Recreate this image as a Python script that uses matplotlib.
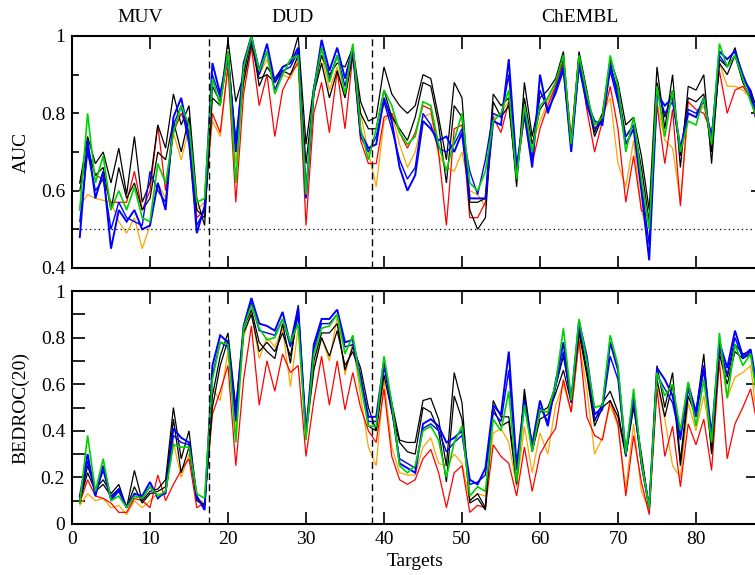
import matplotlib
matplotlib.use("Agg")
import matplotlib.pyplot as plt
import numpy as np
from matplotlib.ticker import MultipleLocator
import matplotlib.transforms as mtransforms

plt.rcParams['font.family'] = ['Liberation Serif', 'DejaVu Serif']

targets = list(range(1, 89))
sections = ["MUV", "DUD", "ChEMBL"]
section_x = [8.7, 28.3, 65.1]
dividers = [17.5, 38.5]

# ---------------- AUC ----------------
auc_black_a = [0.62, 0.74, 0.67, 0.70, 0.62, 0.71, 0.59, 0.74, 0.57, 0.62, 0.77, 0.71, 0.85, 0.77, 0.82, 0.58, 0.51,
               0.87, 0.83, 0.99, 0.83, 0.90, 1.00, 0.87, 0.92, 0.89, 0.92, 0.93, 1.00, 0.72, 0.87, 0.95, 0.90, 0.93, 0.92, 0.97, 0.83, 0.78,
               0.79, 0.92, 0.85, 0.82, 0.80, 0.82, 0.90, 0.89, 0.79, 0.68,
               0.88, 0.84, 0.57, 0.57, 0.58, 0.85, 0.82, 0.84, 0.61, 0.88,
               0.74, 0.84, 0.86, 0.89, 0.96, 0.72, 0.96, 0.86, 0.75, 0.80,
               0.94, 0.88, 0.77, 0.79, 0.69, 0.55, 0.92, 0.76, 0.90, 0.66,
               0.87, 0.86, 0.90, 0.67, 0.94, 0.92, 0.97, 0.89, 0.86, 0.80]
auc_black_b = [0.60, 0.71, 0.64, 0.66, 0.55, 0.66, 0.58, 0.62, 0.55, 0.58, 0.70, 0.68, 0.78, 0.70, 0.79, 0.55, 0.53,
               0.84, 0.82, 0.96, 0.72, 0.88, 0.98, 0.89, 0.90, 0.88, 0.91, 0.90, 0.95, 0.67, 0.85, 0.93, 0.84, 0.91, 0.84, 0.95, 0.80, 0.76,
               0.76, 0.86, 0.79, 0.76, 0.73, 0.79, 0.88, 0.87, 0.77, 0.62,
               0.82, 0.79, 0.55, 0.50, 0.53, 0.83, 0.79, 0.82, 0.63, 0.84,
               0.72, 0.81, 0.84, 0.88, 0.94, 0.71, 0.94, 0.84, 0.74, 0.79,
               0.92, 0.86, 0.74, 0.77, 0.66, 0.52, 0.88, 0.79, 0.86, 0.69,
               0.84, 0.83, 0.85, 0.70, 0.93, 0.90, 0.95, 0.88, 0.84, 0.78]
auc_blue_a = [0.48, 0.73, 0.58, 0.65, 0.45, 0.55, 0.52, 0.55, 0.50, 0.51, 0.62, 0.55, 0.79, 0.84, 0.74, 0.49, 0.56,
              0.93, 0.85, 0.95, 0.70, 0.93, 1.00, 0.91, 0.98, 0.88, 0.92, 0.93, 0.97, 0.58, 0.86, 0.99, 0.91, 0.97, 0.89, 0.97, 0.75, 0.71,
              0.72, 0.84, 0.78, 0.66, 0.60, 0.64, 0.78, 0.76, 0.73, 0.74,
              0.70, 0.75, 0.58, 0.58, 0.58, 0.78, 0.77, 0.94, 0.66, 0.80,
              0.66, 0.90, 0.80, 0.86, 0.92, 0.70, 0.93, 0.83, 0.78, 0.77,
              0.93, 0.84, 0.72, 0.76, 0.60, 0.42, 0.85, 0.82, 0.84, 0.71,
              0.80, 0.79, 0.84, 0.73, 0.96, 0.94, 0.96, 0.90, 0.85, 0.76]
auc_blue_b = [0.52, 0.70, 0.60, 0.63, 0.50, 0.57, 0.53, 0.52, 0.51, 0.65, 0.60, 0.57, 0.77, 0.82, 0.72, 0.51, 0.55,
              0.90, 0.84, 0.94, 0.73, 0.92, 0.99, 0.90, 0.96, 0.86, 0.91, 0.92, 0.96, 0.60, 0.85, 0.97, 0.89, 0.95, 0.87, 0.96, 0.74, 0.70,
              0.74, 0.83, 0.76, 0.68, 0.63, 0.66, 0.80, 0.77, 0.71, 0.70,
              0.72, 0.76, 0.65, 0.59, 0.68, 0.80, 0.79, 0.90, 0.65, 0.81,
              0.68, 0.86, 0.81, 0.85, 0.91, 0.71, 0.92, 0.82, 0.76, 0.78,
              0.91, 0.83, 0.74, 0.77, 0.62, 0.46, 0.86, 0.80, 0.83, 0.70,
              0.81, 0.80, 0.83, 0.74, 0.95, 0.92, 0.95, 0.89, 0.86, 0.78]
auc_green = [0.55, 0.80, 0.62, 0.69, 0.55, 0.60, 0.55, 0.61, 0.53, 0.52, 0.67, 0.62, 0.75, 0.82, 0.77, 0.57, 0.58,
             0.89, 0.82, 0.96, 0.62, 0.92, 1.00, 0.91, 0.96, 0.85, 0.90, 0.94, 0.95, 0.59, 0.86, 0.97, 0.88, 0.95, 0.85, 0.98, 0.76, 0.68,
             0.76, 0.86, 0.82, 0.75, 0.72, 0.74, 0.83, 0.82, 0.72, 0.65,
             0.73, 0.80, 0.62, 0.60, 0.65, 0.78, 0.80, 0.86, 0.63, 0.82,
             0.70, 0.82, 0.84, 0.88, 0.95, 0.72, 0.95, 0.85, 0.77, 0.79,
             0.95, 0.87, 0.70, 0.79, 0.63, 0.50, 0.87, 0.74, 0.86, 0.70,
             0.78, 0.77, 0.84, 0.72, 0.98, 0.92, 0.95, 0.89, 0.83, 0.78]
auc_orange = [0.56, 0.59, 0.58, 0.575, 0.57, 0.52, 0.49, 0.53, 0.45, 0.51, 0.62, 0.58, 0.75, 0.68, 0.76, 0.55, 0.57,
              0.78, 0.74, 0.93, 0.67, 0.88, 0.99, 0.90, 0.94, 0.86, 0.90, 0.89, 0.94, 0.60, 0.85, 0.95, 0.86, 0.92, 0.84, 0.96, 0.80, 0.70,
              0.61, 0.78, 0.80, 0.72, 0.66, 0.70, 0.79, 0.80, 0.69, 0.66,
              0.65, 0.70, 0.60, 0.59, 0.56, 0.79, 0.80, 0.83, 0.64, 0.80,
              0.72, 0.78, 0.83, 0.87, 0.92, 0.72, 0.94, 0.85, 0.76, 0.80,
              0.84, 0.67, 0.61, 0.73, 0.55, 0.47, 0.83, 0.73, 0.71, 0.57,
              0.80, 0.79, 0.82, 0.72, 0.93, 0.87, 0.87, 0.86, 0.84, 0.76]
auc_red = [0.62, 0.70, 0.64, 0.63, 0.57, 0.57, 0.57, 0.65, 0.55, 0.60, 0.77, 0.60, 0.75, 0.80, 0.75, 0.53, 0.55,
           0.80, 0.75, 0.92, 0.57, 0.85, 0.97, 0.82, 0.90, 0.74, 0.86, 0.90, 0.93, 0.51, 0.80, 0.88, 0.75, 0.91, 0.76, 0.95, 0.73, 0.67,
           0.67, 0.79, 0.80, 0.75, 0.71, 0.75, 0.82, 0.81, 0.70, 0.51,
           0.76, 0.77, 0.53, 0.53, 0.57, 0.79, 0.75, 0.83, 0.64, 0.79,
           0.67, 0.76, 0.82, 0.87, 0.93, 0.74, 0.95, 0.81, 0.70, 0.78,
           0.87, 0.76, 0.57, 0.69, 0.55, 0.53, 0.82, 0.67, 0.81, 0.56,
           0.83, 0.81, 0.80, 0.75, 0.91, 0.80, 0.86, 0.87, 0.84, 0.76]

# ---------------- BEDROC(20) ----------------
bed_black_a = [0.10, 0.25, 0.15, 0.19, 0.13, 0.17, 0.07, 0.23, 0.10, 0.14, 0.15, 0.19, 0.50, 0.28, 0.40, 0.11, 0.08,
               0.55, 0.72, 0.82, 0.50, 0.84, 0.92, 0.78, 0.74, 0.71, 0.86, 0.69, 0.94, 0.40, 0.70, 0.82, 0.82, 0.86, 0.66, 0.76, 0.67, 0.50,
               0.40, 0.68, 0.52, 0.36, 0.35, 0.35, 0.53, 0.54, 0.45, 0.25,
               0.65, 0.52, 0.10, 0.13, 0.07, 0.53, 0.46, 0.46, 0.18, 0.58,
               0.33, 0.48, 0.50, 0.59, 0.72, 0.53, 0.84, 0.66, 0.44, 0.52,
               0.57, 0.48, 0.30, 0.52, 0.30, 0.07, 0.68, 0.50, 0.65, 0.27,
               0.58, 0.48, 0.73, 0.31, 0.76, 0.63, 0.77, 0.73, 0.74, 0.55]
bed_black_b = [0.10, 0.22, 0.14, 0.17, 0.12, 0.15, 0.07, 0.16, 0.09, 0.13, 0.14, 0.16, 0.45, 0.22, 0.33, 0.10, 0.08,
               0.50, 0.68, 0.79, 0.45, 0.82, 0.90, 0.74, 0.78, 0.74, 0.82, 0.72, 0.90, 0.38, 0.66, 0.80, 0.72, 0.83, 0.68, 0.74, 0.64, 0.42,
               0.40, 0.64, 0.48, 0.35, 0.31, 0.30, 0.50, 0.48, 0.40, 0.18,
               0.55, 0.45, 0.09, 0.11, 0.06, 0.50, 0.42, 0.44, 0.17, 0.55,
               0.31, 0.45, 0.47, 0.56, 0.66, 0.52, 0.82, 0.64, 0.42, 0.50,
               0.53, 0.46, 0.29, 0.50, 0.28, 0.07, 0.62, 0.46, 0.60, 0.25,
               0.55, 0.46, 0.68, 0.30, 0.73, 0.60, 0.74, 0.71, 0.73, 0.53]
bed_blue_a = [0.12, 0.30, 0.12, 0.25, 0.11, 0.15, 0.07, 0.13, 0.12, 0.18, 0.11, 0.14, 0.41, 0.37, 0.35, 0.12, 0.06,
              0.68, 0.81, 0.78, 0.47, 0.85, 0.97, 0.86, 0.85, 0.83, 0.91, 0.77, 0.93, 0.39, 0.77, 0.88, 0.88, 0.92, 0.78, 0.79, 0.63, 0.46,
              0.46, 0.70, 0.50, 0.26, 0.24, 0.22, 0.43, 0.45, 0.42, 0.35,
              0.37, 0.40, 0.19, 0.17, 0.24, 0.51, 0.47, 0.74, 0.25, 0.53,
              0.34, 0.53, 0.42, 0.61, 0.78, 0.53, 0.87, 0.72, 0.47, 0.50,
              0.78, 0.66, 0.30, 0.55, 0.26, 0.07, 0.67, 0.62, 0.55, 0.38,
              0.60, 0.48, 0.68, 0.38, 0.78, 0.67, 0.83, 0.72, 0.75, 0.55]
bed_blue_b = [0.11, 0.27, 0.13, 0.23, 0.10, 0.14, 0.07, 0.12, 0.11, 0.16, 0.12, 0.13, 0.38, 0.35, 0.34, 0.11, 0.07,
              0.64, 0.78, 0.76, 0.44, 0.84, 0.95, 0.83, 0.82, 0.81, 0.88, 0.76, 0.90, 0.38, 0.75, 0.86, 0.86, 0.90, 0.76, 0.77, 0.61, 0.44,
              0.44, 0.68, 0.49, 0.28, 0.26, 0.24, 0.41, 0.43, 0.40, 0.31,
              0.35, 0.38, 0.17, 0.18, 0.21, 0.48, 0.44, 0.66, 0.23, 0.51,
              0.33, 0.50, 0.44, 0.59, 0.74, 0.52, 0.85, 0.70, 0.45, 0.49,
              0.72, 0.62, 0.29, 0.53, 0.26, 0.07, 0.64, 0.58, 0.52, 0.36,
              0.58, 0.46, 0.66, 0.36, 0.76, 0.64, 0.80, 0.71, 0.74, 0.53]
bed_green = [0.09, 0.38, 0.14, 0.28, 0.10, 0.12, 0.07, 0.12, 0.11, 0.16, 0.12, 0.14, 0.34, 0.33, 0.33, 0.13, 0.11,
             0.62, 0.78, 0.77, 0.35, 0.84, 0.94, 0.84, 0.79, 0.80, 0.88, 0.78, 0.86, 0.36, 0.73, 0.84, 0.85, 0.90, 0.73, 0.81, 0.60, 0.42,
             0.42, 0.72, 0.52, 0.25, 0.22, 0.25, 0.40, 0.42, 0.36, 0.20,
             0.35, 0.42, 0.12, 0.16, 0.14, 0.45, 0.40, 0.57, 0.18, 0.51,
             0.31, 0.49, 0.48, 0.60, 0.84, 0.53, 0.88, 0.70, 0.50, 0.51,
             0.81, 0.68, 0.30, 0.58, 0.27, 0.07, 0.65, 0.55, 0.60, 0.40,
             0.61, 0.42, 0.62, 0.35, 0.82, 0.54, 0.77, 0.68, 0.73, 0.50]
bed_orange = [0.08, 0.13, 0.10, 0.11, 0.07, 0.08, 0.04, 0.10, 0.07, 0.10, 0.13, 0.13, 0.35, 0.20, 0.30, 0.11, 0.09,
              0.58, 0.53, 0.74, 0.40, 0.80, 0.91, 0.71, 0.80, 0.76, 0.84, 0.59, 0.84, 0.39, 0.67, 0.80, 0.70, 0.89, 0.64, 0.78, 0.55, 0.33,
              0.25, 0.62, 0.33, 0.22, 0.21, 0.21, 0.33, 0.37, 0.26, 0.25,
              0.30, 0.26, 0.10, 0.13, 0.12, 0.39, 0.41, 0.35, 0.16, 0.42,
              0.22, 0.39, 0.30, 0.51, 0.60, 0.48, 0.78, 0.58, 0.30, 0.37,
              0.51, 0.42, 0.15, 0.43, 0.14, 0.06, 0.60, 0.45, 0.25, 0.20,
              0.52, 0.40, 0.55, 0.34, 0.75, 0.54, 0.63, 0.65, 0.68, 0.40]
bed_red = [0.09, 0.19, 0.12, 0.11, 0.09, 0.05, 0.05, 0.11, 0.10, 0.07, 0.21, 0.10, 0.17, 0.23, 0.28, 0.07, 0.09,
           0.47, 0.57, 0.68, 0.25, 0.62, 0.85, 0.51, 0.70, 0.57, 0.73, 0.65, 0.68, 0.29, 0.53, 0.72, 0.51, 0.70, 0.49, 0.65, 0.50, 0.40,
           0.35, 0.58, 0.29, 0.19, 0.17, 0.19, 0.28, 0.32, 0.22, 0.07,
           0.22, 0.25, 0.05, 0.08, 0.07, 0.34, 0.29, 0.26, 0.12, 0.33,
           0.14, 0.30, 0.36, 0.41, 0.62, 0.48, 0.79, 0.46, 0.38, 0.36,
           0.53, 0.43, 0.12, 0.38, 0.18, 0.04, 0.58, 0.29, 0.42, 0.16,
           0.43, 0.34, 0.45, 0.23, 0.70, 0.28, 0.43, 0.50, 0.58, 0.40]

BLACK, BLUE, GREEN, ORANGE, RED = "#000000", "#0000ff", "#00d200", "#ffa500", "#ff0000"

W, H = 755, 575
fig = plt.figure(figsize=(W / 100, H / 100), dpi=100)
left = 72 / W
width = (7.8 * 88) / W
ax1 = fig.add_axes([left, 1 - 268 / H, width, (268 - 36) / H])
ax2 = fig.add_axes([left, 1 - 524 / H, width, (524 - 291) / H])

def draw(ax, series):
    for vals, col, lw in series:
        ax.plot(targets, vals, color=col, lw=lw, solid_joinstyle='miter', zorder=2)

draw(ax1, [(auc_orange, ORANGE, 0.9), (auc_red, RED, 0.9),
           (auc_black_b, BLACK, 0.9), (auc_black_a, BLACK, 0.9),
           (auc_blue_b, BLUE, 1.0), (auc_blue_a, BLUE, 1.4),
           (auc_green, GREEN, 1.2)])
draw(ax2, [(bed_orange, ORANGE, 0.9), (bed_red, RED, 0.9),
           (bed_black_b, BLACK, 0.9), (bed_black_a, BLACK, 0.9),
           (bed_blue_b, BLUE, 1.0), (bed_blue_a, BLUE, 1.4),
           (bed_green, GREEN, 1.2)])

ax1.axhline(0.5, color='black', lw=0.9, ls=(0, (1, 2.5)), zorder=1)

for ax in (ax1, ax2):
    for d in dividers:
        ax.axvline(d, color='black', lw=1.0, ls=(0, (5, 3)), zorder=3)
    ax.set_xlim(0, 88)
    ax.xaxis.set_major_locator(MultipleLocator(10))
    for s in ax.spines.values():
        s.set_linewidth(1.5)
    ax.tick_params(axis='both', which='both', direction='in', top=True, right=True,
                   labelsize=14, width=1.2, pad=5)
    ax.tick_params(axis='x', which='major', length=9)

ax1.set_ylim(0.4, 1.0)
ax1.yaxis.set_minor_locator(MultipleLocator(0.1))
ax1.set_yticks([0.4, 0.6, 0.8, 1.0])
ax1.set_yticklabels(["0.4", "0.6", "0.8", "1"])
ax1.tick_params(axis='y', which='both', length=5)
ax1.tick_params(axis='y', which='minor', right=False)
ax1.set_xticklabels([])
ax1.set_ylabel("AUC", fontsize=14, labelpad=8)

ax2.set_ylim(0, 1.0)
ax2.set_yticks([0, 0.2, 0.4, 0.6, 0.8, 1.0])
ax2.set_yticklabels(["0", "0.2", "0.4", "0.6", "0.8", "1"])
ax2.yaxis.set_minor_locator(MultipleLocator(0.1))
ax2.tick_params(axis='y', which='both', length=9)
ax2.tick_params(axis='y', which='minor', right=False)
ax2.set_xticks(list(range(0, 90, 10)))
ax2.set_xticklabels([str(v) for v in range(0, 90, 10)])
ax2.set_xlabel("Targets", fontsize=14, labelpad=4)
ax2.set_ylabel("BEDROC(20)", fontsize=14, labelpad=8)

trans = mtransforms.blended_transform_factory(ax1.transData, ax1.transAxes)
for name, xpos in zip(sections, section_x):
    ax1.text(xpos, 1 + 18 / 232, name, transform=trans, ha='center', va='center', fontsize=14)

fig.savefig("out.png", dpi=100)
